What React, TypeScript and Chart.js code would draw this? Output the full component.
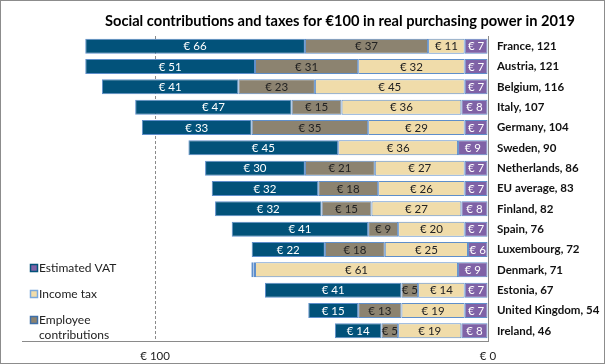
import React, { useEffect, useRef } from "react";
import { Chart, registerables } from "chart.js";

Chart.register(...registerables);

const countries = ["France", "Austria", "Belgium", "Italy", "Germany", "Sweden", "Netherlands", "EU average", "Finland", "Spain", "Luxembourg", "Denmark", "Estonia", "United Kingdom", "Ireland"];
const totals = [121, 121, 116, 107, 104, 90, 86, 83, 82, 76, 72, 71, 67, 54, 46];
const otherContrib = [7, 7, 7, 8, 7, 9, 7, 7, 8, 7, 6, 9, 7, 7, 8];
const incomeTax = [11, 32, 45, 36, 29, 36, 27, 26, 27, 20, 25, 61, 14, 19, 19];
const employeeContrib = [37, 31, 23, 15, 35, 0, 21, 18, 15, 9, 18, 0.5, 5, 13, 5];
const estimatedVat = [66, 51, 41, 47, 33, 45, 30, 32, 32, 41, 22, 0.6, 41, 15, 14];
const xTicks = [0, 100];

const TITLE = "Social contributions and taxes for €100 in real purchasing power in 2019";
const FONT = "Lato, 'Open Sans', sans-serif";

const C_BLUE = "#02527a";
const C_GRAY = "#8c8370";
const C_BEIGE = "#f0dcaa";
const C_PURPLE = "#7f62a6";
const C_EDGE = "#5f8fcb";

export default function App() {
  const ref = useRef<HTMLCanvasElement | null>(null);
  useEffect(() => {
    if (!ref.current) return;
    const labelsPlugin = {
      id: "segLabels",
      afterDatasetsDraw(chart: any) {
        const ctx = chart.ctx;
        ctx.save();
        ctx.font = `11.5px ${FONT}`;
        ctx.textAlign = "center";
        ctx.textBaseline = "middle";
        chart.data.datasets.forEach((ds: any, di: number) => {
          const meta = chart.getDatasetMeta(di);
          meta.data.forEach((bar: any, i: number) => {
            const v = ds.data[i];
            if (v < 3) return;
            const cx = (bar.x + bar.base) / 2;
            ctx.fillStyle = ds.labelColor;
            ctx.fillText(`€ ${Math.round(v)}`, cx, bar.y + 0.5);
          });
        });
        ctx.restore();
      },
    };
    const decoPlugin = {
      id: "deco",
      afterDraw(chart: any) {
        const ctx = chart.ctx;
        ctx.save();
        ctx.fillStyle = "#000";
        ctx.font = `bold 15.5px ${FONT}`;
        ctx.textAlign = "center";
        ctx.textBaseline = "middle";
        const w = ctx.measureText(TITLE).width;
        const target = 470;
        ctx.translate(339, 20);
        ctx.scale(Math.min(1, target / w), 1);
        ctx.fillText(TITLE, 0, 0);
        ctx.restore();

        const items = [
          { lines: ["Estimated VAT"], fill: C_PURPLE, stroke: C_BLUE },
          { lines: ["Income tax"], fill: C_BEIGE, stroke: "#7aa8dc" },
          { lines: ["Employee", "contributions"], fill: C_GRAY, stroke: "#3f6fa8" },
        ];
        ctx.save();
        ctx.font = `12px ${FONT}`;
        ctx.textBaseline = "middle";
        ctx.textAlign = "left";
        items.forEach((it, k) => {
          const y = 267 + k * 26;
          ctx.fillStyle = it.fill;
          ctx.fillRect(30, y - 3, 6, 6);
          ctx.strokeStyle = it.stroke;
          ctx.lineWidth = 1.5;
          ctx.strokeRect(29.5, y - 3.5, 7, 7);
          ctx.fillStyle = "#222";
          it.lines.forEach((ln, j) => ctx.fillText(ln, 38, y + j * 15));
        });
        ctx.restore();
      },
    };
    const mk = (label: string, data: number[], bg: string, labelColor: string) => ({
      label,
      data,
      backgroundColor: bg,
      borderColor: C_EDGE,
      borderWidth: 1,
      borderSkipped: false,
      labelColor,
      barPercentage: 0.74,
      categoryPercentage: 1,
    });
    const chart = new Chart(ref.current, {
      type: "bar",
      data: {
        labels: countries.map((c, i) => `${c}, ${totals[i]}`),
        datasets: [
          mk("Employer contributions", otherContrib, C_PURPLE, "#fff"),
          mk("Income tax", incomeTax, C_BEIGE, "#222"),
          mk("Employee contributions", employeeContrib, C_GRAY, "#222"),
          mk("Estimated VAT", estimatedVat, C_BLUE, "#fff"),
        ] as any,
      },
      options: {
        indexAxis: "y",
        animation: false,
        responsive: false,
        maintainAspectRatio: false,
        layout: { padding: { left: 21, top: 35, right: 0, bottom: 0 } },
        plugins: { legend: { display: false }, tooltip: { enabled: false }, title: { display: false } },
        scales: {
          x: {
            stacked: true,
            reverse: true,
            min: 0,
            max: 140,
            afterBuildTicks: (s: any) => {
              s.ticks = xTicks.map((v) => ({ value: v }));
            },
            afterFit: (s: any) => {
              s.height = 22;
            },
            grid: {
              drawTicks: false,
              color: (c: any) => (c.tick && c.tick.value === 100 ? "#8a8a8a" : "rgba(0,0,0,0)"),
            },
            border: { display: true, color: "#8a8a8a", dash: [3, 2] },
            ticks: {
              padding: 8,
              color: "#222",
              font: { family: FONT, size: 11.5 },
              callback: (v: any) => `€ ${v}`,
            },
          },
          y: {
            stacked: true,
            position: "right",
            afterFit: (s: any) => {
              s.width = 116;
            },
            grid: { display: false, drawTicks: false },
            border: { display: true, color: "#8a8a8a" },
            ticks: {
              padding: 9,
              color: "#111",
              font: { family: FONT, size: 11.5, weight: "bold" },
              autoSkip: false,
            },
          },
        },
      } as any,
      plugins: [labelsPlugin, decoPlugin],
    });
    return () => chart.destroy();
  }, []);
  return (
    <div
      style={{
        position: "fixed",
        left: 0,
        top: 0,
        width: 605,
        height: 364,
        border: "1px solid #8c8c8c",
        boxSizing: "border-box",
        background: "#fff",
      }}
    >
      <canvas ref={ref} width={603} height={362} style={{ display: "block", width: 603, height: 362 }} />
    </div>
  );
}
